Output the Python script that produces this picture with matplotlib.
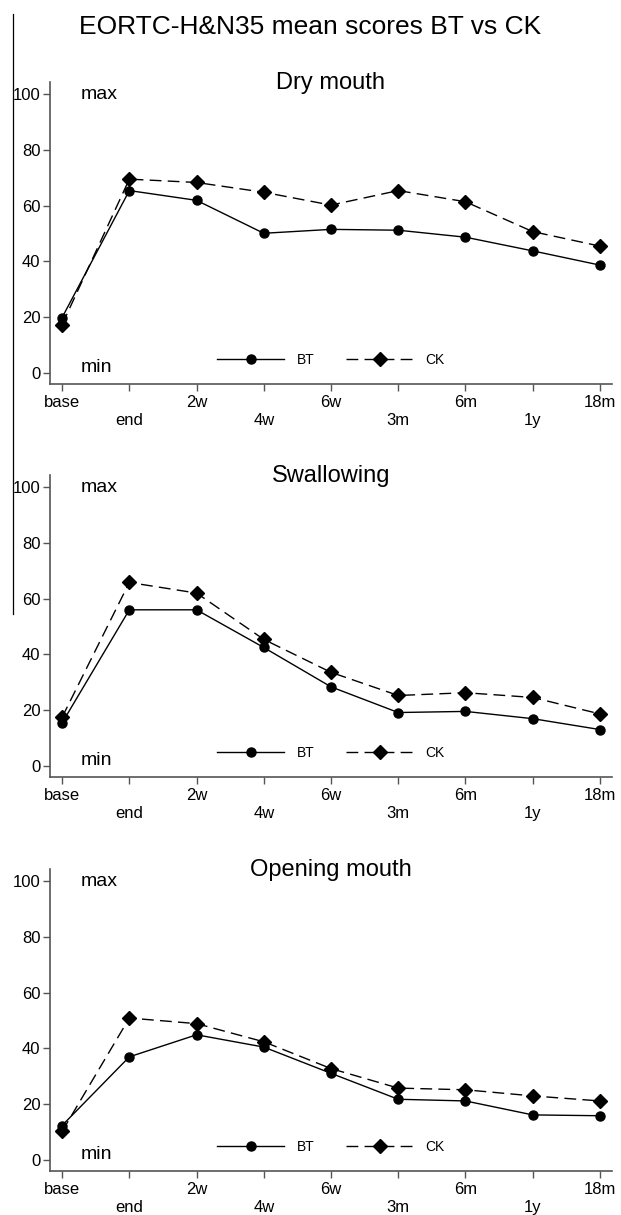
import numpy as np
import matplotlib
matplotlib.use("Agg")
import matplotlib.pyplot as plt
from matplotlib.lines import Line2D

# ==============================
# DATA
# ==============================
timepoints = ["base", "end", "2w", "4w", "6w", "3m", "6m", "1y", "18m"]

dry_bt = [19.9, 65.4, 61.9, 50.1, 51.5, 51.2, 48.7, 43.8, 38.7]
dry_ck = [17.4, 69.5, 68.3, 64.8, 60.2, 65.4, 61.4, 50.7, 45.5]

swal_bt = [15.5, 56.0, 56.0, 42.5, 28.4, 19.2, 19.6, 17.0, 13.1]
swal_ck = [17.5, 65.8, 62.0, 45.4, 33.6, 25.3, 26.3, 24.6, 18.7]

open_bt = [12.4, 37.0, 44.9, 40.5, 31.1, 21.8, 21.2, 16.2, 15.9]
open_ck = [10.3, 50.9, 48.9, 42.4, 32.8, 25.8, 25.2, 23.0, 21.2]

panels = [("Dry mouth", dry_bt, dry_ck),
          ("Swallowing", swal_bt, swal_ck),
          ("Opening mouth", open_bt, open_ck)]

yticks = [0, 20, 40, 60, 80, 100]

# ==============================
# STYLE
# ==============================
plt.rcParams["font.family"] = ["Liberation Sans", "DejaVu Sans"]
plt.rcParams["lines.scale_dashes"] = False
spine_col = "#555555"

W, H = 621, 1215
fig = plt.figure(figsize=(W / 100, H / 100), dpi=100)

# axes boxes in pixels
left_px, right_px = 50, 612
tops = [82, 475, 869]
ax_h = 302

x = np.arange(len(timepoints))
xlabels = [t if i % 2 == 0 else "\n" + t for i, t in enumerate(timepoints)]

for (name, bt, ck), top in zip(panels, tops):
    ax = fig.add_axes([left_px / W, 1 - (top + ax_h) / H,
                       (right_px - left_px) / W, ax_h / H])
    ax.plot(x, bt, color="black", lw=1.0, marker="o", ms=6.5, label="BT")
    ax.plot(x, ck, color="black", lw=1.0, marker="D", ms=7.5,
            dashes=(8.5, 4.5), label="CK")

    ax.set_xlim(-0.18, 8.18)
    ax.set_ylim(-3.9, 104.3)
    ax.set_xticks(x)
    ax.set_xticklabels(xlabels)
    ax.set_yticks(yticks)

    for s in ["top", "right"]:
        ax.spines[s].set_visible(False)
    for s in ["left", "bottom"]:
        ax.spines[s].set_color(spine_col)
        ax.spines[s].set_linewidth(1.2)
    ax.tick_params(axis="both", colors=spine_col, labelcolor="black",
                   labelsize=12, length=5, width=1.0, pad=2)
    ax.tick_params(axis="x", pad=3)

    ax.text(0.5, 0.977, name, transform=ax.transAxes, ha="center",
            va="baseline", fontsize=17)
    ax.text(0.27, 100, "max", ha="left", va="center", fontsize=14)
    ax.text(0.27, 2, "min", ha="left", va="center", fontsize=14)

    ax.legend(loc="center", bbox_to_anchor=(0.5, 0.08), ncol=2, frameon=False,
              fontsize=10, handlelength=4.8, handletextpad=0.9,
              columnspacing=2.3, numpoints=1, markerscale=1.0)

fig.text(0.5, 1 - 34 / H, "EORTC-H&N35 mean scores BT vs CK",
         ha="center", va="baseline", fontsize=19)

# thin vertical rule on the left edge of the scan
fig.add_artist(Line2D([12.7 / W, 12.7 / W], [1 - 14 / H, 1 - 614 / H],
                      color="black", lw=0.9, transform=fig.transFigure))

fig.savefig("out.png", dpi=100)
